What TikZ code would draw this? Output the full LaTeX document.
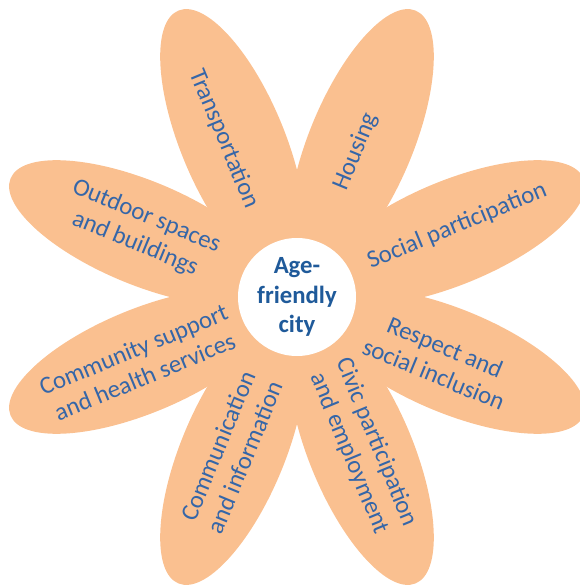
\documentclass[tikz,border=0pt]{standalone}
\usepackage{fontspec}
\setmainfont{Carlito}
\definecolor{corpetala}{HTML}{FAC090}
\definecolor{azultexto}{HTML}{3566A8}
\definecolor{azulcentro}{HTML}{1F5A9A}

\begin{document}
\begin{tikzpicture}[
    petala/.style={fill=corpetala},
    rotulo/.style={text=azultexto, align=center, inner sep=0pt,
      font=\fontsize{17.6}{21}\selectfont},
  ]
  \useasboundingbox (-7.425,-7.2) rectangle (7.075,7.425);

  % Pétalas
  \fill[petala, rotate=22.5]  (4.2,0) ellipse [x radius=3.55, y radius=1.3];
  \fill[petala, rotate=67.5]  (4.2,0) ellipse [x radius=3.55, y radius=1.3];
  \fill[petala, rotate=112.5] (4.2,0) ellipse [x radius=3.55, y radius=1.3];
  \fill[petala, rotate=157.5] (4.2,0) ellipse [x radius=3.55, y radius=1.3];
  \fill[petala, rotate=202.5] (4.2,0) ellipse [x radius=3.55, y radius=1.3];
  \fill[petala, rotate=247.5] (4.2,0) ellipse [x radius=3.55, y radius=1.3];
  \fill[petala, rotate=292.5] (4.2,0) ellipse [x radius=3.55, y radius=1.3];
  \fill[petala, rotate=337.5] (4.2,0) ellipse [x radius=3.55, y radius=1.3];

  % Miolo
  \node[circle, fill=white, minimum size=2.95cm, inner sep=0pt] (miolo) at (0,0) {};
  \node[text=azulcentro, align=center, font=\fontsize{17.6}{21}\selectfont\bfseries]
    (cidade) at (miolo) {Age-\\friendly\\city};

  % Rótulos das pétalas
  \node[rotulo, rotate=-67.5] (transporte) at (114.8:4.35) {Transportation};
  \node[rotulo, rotate=67.5]  (habitacao)  at (67.9:3.92) {Housing};
  \node[rotulo, rotate=22.5]  (participacao) at (23.9:4.38) {Social participation};
  \node[rotulo, rotate=-22.5] (respeito)   at (-24:3.9) {Respect and\\social inclusion};
  \node[rotulo, rotate=-67.5] (civica)     at (-66.4:4.12) {Civic participation\\and employment};
  \node[rotulo, rotate=67.5]  (comunicacao) at (247:4.2) {Communication\\and information};
  \node[rotulo, rotate=22.5]  (comunidade) at (202.7:4.28) {Community support\\and health services};
  \node[rotulo, rotate=-22.5] (exterior)   at (156.8:4.25) {Outdoor spaces\\and buildings};
\end{tikzpicture}
\end{document}
